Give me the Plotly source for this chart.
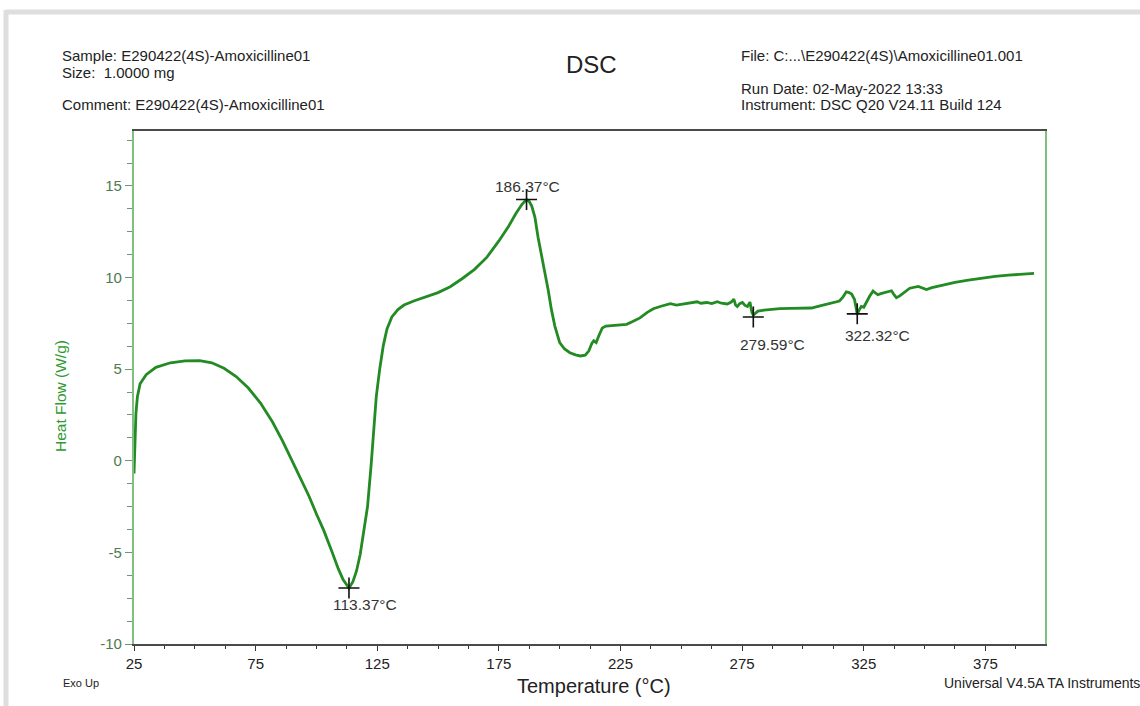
import plotly.graph_objects as go

# ---- data ----
temperature_c = [
    25.0, 25.3, 25.8, 26.4, 27.5, 30.0, 34.0, 40.0, 46.0, 52.0, 57.0, 62.0, 67.0, 72.0,
    77.0, 82.0, 86.0, 90.0, 93.0, 97.0, 100.0, 103.0, 106.5, 109.0, 111.0, 113.37,
    115.0, 116.5, 118.0, 119.5, 121.0, 122.5, 123.5, 124.6, 126.0, 127.5, 129.0, 131.0,
    133.5, 136.0, 140.0, 145.0, 150.0, 155.0, 160.0, 165.0, 170.0, 175.0, 179.0, 182.0,
    184.5, 186.37, 187.5, 188.5, 189.8, 191.1, 193.2, 195.3, 196.6, 198.0, 200.0, 202.0,
    204.2, 206.5, 208.5, 210.5, 212.0, 213.2, 214.0, 215.0, 216.0, 217.5, 219.0, 223.0,
    227.5, 230.0, 233.0, 236.0, 238.5, 242.0, 245.5, 248.0, 251.0, 253.5, 256.5, 258.0,
    260.5, 262.5, 264.8, 266.5, 268.9, 270.5, 271.6, 272.3, 273.0, 274.0, 275.1, 276.2,
    277.2, 278.2, 279.0, 279.59, 280.5, 281.5, 284.0, 287.0, 290.5, 295.0, 300.0, 303.5,
    307.0, 311.5, 315.0, 316.5, 317.8, 319.0, 320.0, 321.2, 322.32, 323.2, 324.0, 325.0,
    326.0, 327.4, 328.8, 330.0, 330.8, 332.0, 333.6, 335.0, 336.4, 337.5, 338.4, 339.8,
    341.2, 343.9, 347.4, 349.5, 350.8, 353.0, 355.6, 359.0, 362.5, 368.0, 373.5, 379.0,
    384.5, 390.0, 395.0,
]
heat_flow_wg = [
    -0.7, 1.2, 2.6, 3.5, 4.2, 4.7, 5.1, 5.35, 5.45, 5.47, 5.35, 5.05, 4.6, 3.97,
    3.15, 2.1, 1.1, 0.0, -0.8, -1.95, -2.9, -3.8, -5.0, -5.9, -6.5, -6.94,
    -6.6, -6.0, -5.1, -3.9, -2.5, -0.2, 1.6, 3.5, 5.0, 6.3, 7.2, 7.85,
    8.25, 8.5, 8.72, 8.95, 9.18, 9.5, 9.95, 10.45, 11.1, 12.0, 12.8, 13.5,
    14.0, 14.26, 14.15, 13.9, 13.3, 12.2, 10.8, 9.3, 8.25, 7.35, 6.45, 6.1,
    5.9, 5.78, 5.72, 5.76, 6.0, 6.4, 6.55, 6.45, 6.8, 7.25, 7.35, 7.38,
    7.45, 7.6, 7.8, 8.1, 8.3, 8.45, 8.58, 8.5, 8.55, 8.62, 8.68, 8.6,
    8.64, 8.58, 8.68, 8.6, 8.56, 8.66, 8.82, 8.5, 8.42, 8.58, 8.64, 8.48,
    8.42, 8.66, 8.1, 7.95, 8.05, 8.17, 8.22, 8.26, 8.30, 8.32, 8.33, 8.34,
    8.45, 8.6, 8.72, 8.95, 9.22, 9.18, 9.1, 8.8, 8.0, 8.25, 8.42, 8.38,
    8.65, 8.98, 9.26, 9.12, 9.06, 9.12, 9.18, 9.24, 9.28, 9.05, 8.9, 9.0,
    9.16, 9.42, 9.52, 9.44, 9.35, 9.45, 9.53, 9.62, 9.74, 9.86, 9.97, 10.06,
    10.13, 10.18, 10.23,
]

peak_temps = [113.37, 186.37, 279.59, 322.32]
peak_flows = [-6.94, 14.26, 7.85, 8.02]
peak_labels = ["113.37°C", "186.37°C", "279.59°C", "322.32°C"]
# label offsets (pixels) relative to each marker
label_dx = [16, 1, 19, 20]
label_dy = [-17, 13, -28, -22]

x_ticks = [25, 75, 125, 175, 225, 275, 325, 375]
y_ticks = [-10, -5, 0, 5, 10, 15]

FONT = "Liberation Sans, Arial, sans-serif"
CURVE = "#238b23"
YGREEN = "#7fbf7f"

fig = go.Figure()
fig.add_trace(go.Scatter(
    x=temperature_c, y=heat_flow_wg, mode="lines",
    line=dict(color=CURVE, width=2.8, shape="linear"),
    hoverinfo="skip", showlegend=False,
))
fig.add_trace(go.Scatter(
    x=peak_temps, y=peak_flows, mode="markers",
    marker=dict(symbol="cross-thin", size=15, line=dict(color="#111111", width=1.6)),
    hoverinfo="skip", showlegend=False,
))

for t, h, lab, dx, dy in zip(peak_temps, peak_flows, peak_labels, label_dx, label_dy):
    fig.add_annotation(x=t, y=h, xref="x", yref="y", text=lab, showarrow=False,
                       xshift=dx, yshift=dy, xanchor="center", yanchor="middle",
                       font=dict(family=FONT, size=15.5, color="#333333"))

def add_text(txt, px, py, size, color="#222222", xanchor="left", angle=0):
    fig.add_annotation(
        x=(px - 134) / 911, y=(644 - py) / 513, xref="paper", yref="paper",
        text=txt, showarrow=False, xanchor=xanchor, yanchor="middle",
        textangle=angle, font=dict(family=FONT, size=size, color=color))

HDR = 15
add_text("Sample: E290422(4S)-Amoxicilline01", 60, 55, HDR)
add_text("Size:  1.0000 mg", 60, 72, HDR)
add_text("Comment: E290422(4S)-Amoxicilline01", 60, 105, HDR)
add_text("DSC", 591, 64, 24, xanchor="center")
add_text("File: C:...\\E290422(4S)\\Amoxicilline01.001", 739, 55, HDR)
add_text("Run Date: 02-May-2022 13:33", 739, 88, HDR)
add_text("Instrument: DSC Q20 V24.11 Build 124", 739, 105, HDR)
add_text("Exo Up", 61, 683, 11)
add_text("Temperature (°C)", 594, 686, 20, xanchor="center")
add_text("Universal V4.5A TA Instruments", 942, 683, 14)
add_text("Heat Flow (W/g)", 60, 396, 15.5, color="#2f9a2f", xanchor="center", angle=-90)

# light grey page frame
fig.add_shape(type="line", xref="paper", yref="paper",
              x0=(6 - 134) / 911, x1=(1145 - 134) / 911,
              y0=(644 - 12) / 513, y1=(644 - 12) / 513,
              line=dict(color="#dedede", width=5))
fig.add_shape(type="line", xref="paper", yref="paper",
              x0=(6 - 134) / 911, x1=(6 - 134) / 911,
              y0=(644 - 10) / 513, y1=(644 - 710) / 513,
              line=dict(color="#dedede", width=5))

fig.update_layout(
    width=1140, height=706,
    margin=dict(l=134, r=95, t=131, b=62, autoexpand=False),
    paper_bgcolor="white", plot_bgcolor="white",
    font=dict(family=FONT),
    xaxis=dict(
        range=[25, 399.5], tickvals=x_ticks, ticktext=[str(v) for v in x_ticks],
        showgrid=False, zeroline=False,
        showline=True, linecolor="#4a4a4a", linewidth=1.6, mirror=True,
        ticks="outside", ticklen=5, tickwidth=1.2, tickcolor="#333333",
        tickfont=dict(family=FONT, size=15, color="#222222"),
        minor=dict(dtick=12.5, tick0=25, ticks="outside", ticklen=3,
                   tickwidth=1, tickcolor="#333333"),
    ),
    yaxis=dict(
        range=[-10, 18], tickvals=y_ticks, ticktext=[str(v) for v in y_ticks],
        showgrid=False, zeroline=False,
        showline=True, linecolor=YGREEN, linewidth=2.2, mirror=True,
        ticks="outside", ticklen=7, tickwidth=1.2, tickcolor="#6a9a6a",
        tickfont=dict(family=FONT, size=15, color="#4f7a4f"),
        minor=dict(dtick=1.25, tick0=0, ticks="outside", ticklen=5,
                   tickwidth=1, tickcolor="#6a9a6a"),
    ),
)

fig.write_html("out.html")
